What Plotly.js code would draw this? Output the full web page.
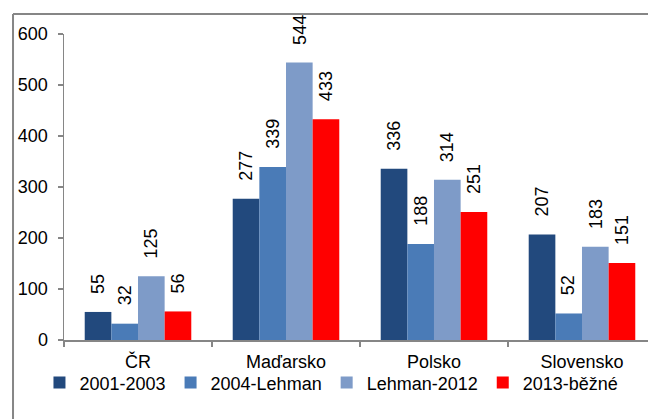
<!DOCTYPE html>
<html>
<head>
<meta charset="utf-8">
<script src="https://cdn.plot.ly/plotly-3.0.1.min.js"></script>
<style>html,body{margin:0;padding:0;overflow:hidden;background:#fff}#chart{width:648px;height:419px}</style>
</head>
<body>
<div id="chart"></div>
<script>
const categories = ['ČR', 'Maďarsko', 'Polsko', 'Slovensko'];
const seriesNames = ['2001-2003', '2004-Lehman', 'Lehman-2012', '2013-běžné'];
const s2001_2003 = [55, 277, 336, 207];
const s2004_Lehman = [32, 339, 188, 52];
const sLehman_2012 = [125, 544, 314, 183];
const s2013_bezne = [56, 433, 251, 151];
const seriesValues = [s2001_2003, s2004_Lehman, sLehman_2012, s2013_bezne];
const colors = ['#22497D', '#4A7BB7', '#7E9BC8', '#FF0000'];
const yTicks = [0, 100, 200, 300, 400, 500, 600];

const FONT = 'Liberation Sans, Arial, sans-serif';
const bargap = 0.28;
const axisColor = '#868686';

const traces = seriesValues.map((vals, i) => ({
  type: 'bar',
  name: seriesNames[i],
  x: categories,
  y: vals,
  marker: {color: colors[i], line: {width: 0}},
  hoverinfo: 'x+y+name'
}));

const annotations = [];
seriesValues.forEach((vals, i) => {
  vals.forEach((v, j) => {
    annotations.push({
      x: j + (i - 1.5) * (1 - bargap) / 4,
      y: v,
      xref: 'x', yref: 'y',
      text: String(v),
      showarrow: false,
      textangle: -90,
      xanchor: 'center',
      yanchor: 'bottom',
      yshift: 16,
      font: {family: FONT, size: 18, color: '#000'}
    });
  });
});

const layout = {
  width: 648, height: 419,
  margin: {l: 64, r: 0, t: 34, b: 79, pad: 0},
  paper_bgcolor: '#fff', plot_bgcolor: '#fff',
  barmode: 'group', bargap: bargap, bargroupgap: 0,
  font: {family: FONT, size: 18, color: '#000'},
  showlegend: true,
  legend: {
    orientation: 'h', x: 0.458, xanchor: 'center', y: -0.14, yanchor: 'middle',
    font: {family: FONT, size: 18, color: '#000'},
    itemwidth: 30, traceorder: 'normal', bgcolor: 'rgba(0,0,0,0)'
  },
  xaxis: {
    type: 'category',
    range: [-0.5, 3.446],
    showline: true, linecolor: axisColor, linewidth: 1.5,
    ticks: 'outside', tickson: 'boundaries', ticklen: 5, tickcolor: axisColor, tickwidth: 1.5,
    ticklabelstandoff: 5,
    showgrid: false, zeroline: false,
    tickfont: {family: FONT, size: 18, color: '#000'},
    fixedrange: true
  },
  yaxis: {
    range: [0, 600],
    tickvals: yTicks,
    showline: true, linecolor: axisColor, linewidth: 1.5,
    ticks: 'outside', ticklen: 5, tickcolor: axisColor, tickwidth: 1.5,
    ticklabelstandoff: 6,
    showgrid: false, zeroline: false,
    tickfont: {family: FONT, size: 18, color: '#000'},
    fixedrange: true
  },
  annotations: annotations,
  shapes: [
    {type: 'line', xref: 'paper', yref: 'paper', x0: -0.0873, x1: -0.0873, y0: 1.065, y1: -0.3,
     line: {color: axisColor, width: 2}},
    {type: 'line', xref: 'paper', yref: 'paper', x0: -0.0873, x1: 1.05, y0: 1.065, y1: 1.065,
     line: {color: axisColor, width: 2}}
  ]
};

Plotly.newPlot('chart', traces, layout, {displayModeBar: false, staticPlot: true});
</script>
</body>
</html>
